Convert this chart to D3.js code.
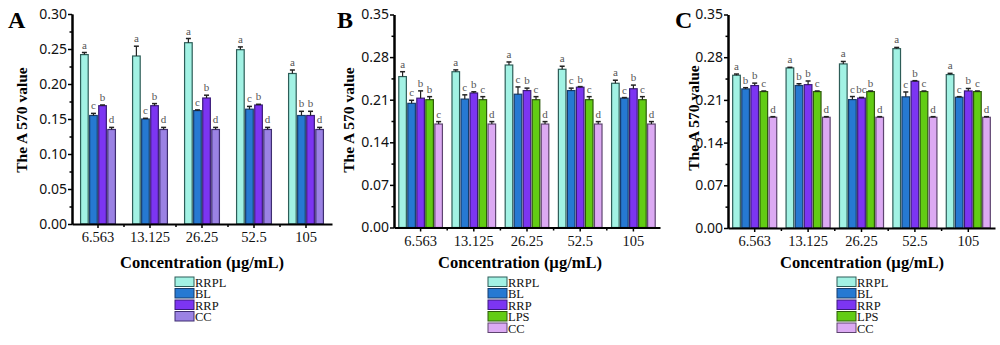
<!DOCTYPE html>
<html>
<head>
<meta charset="utf-8">
<script src="https://cdn.jsdelivr.net/npm/d3@7"></script>
<style>
  body { margin: 0; background: #fff; }
  svg { display: block; }
</style>
</head>
<body>
<div id="chart"></div>
<script>
// categories / series
const concentrations = ["6.563", "13.125", "26.25", "52.5", "105"];
const seriesA = ["RRPL", "BL", "RRP", "CC"];
const seriesBC = ["RRPL", "BL", "RRP", "LPS", "CC"];

// panel A values (A 570)
const aRRPL = [0.242, 0.240, 0.259, 0.249, 0.215];
const aBL   = [0.155, 0.150, 0.162, 0.164, 0.155];
const aRRP  = [0.169, 0.169, 0.180, 0.170, 0.155];
const aCC   = [0.135, 0.135, 0.135, 0.135, 0.135];
const aRRPLErr = [0.003, 0.014, 0.006, 0.004, 0.005];
const aBLErr   = [0.003, 0.001, 0.001, 0.004, 0.006];
const aRRPErr  = [0.001, 0.003, 0.004, 0.001, 0.006];
const aCCErr   = [0.003, 0.003, 0.003, 0.003, 0.003];
const aRRPLSig = ["a", "a", "a", "a", "a"];
const aBLSig   = ["c", "c", "c", "c", "b"];
const aRRPSig  = ["b", "b", "b", "b", "b"];
const aCCSig   = ["d", "d", "d", "d", "d"];

// panel B values
const bRRPL = [0.248, 0.256, 0.267, 0.260, 0.237];
const bBL   = [0.204, 0.211, 0.219, 0.225, 0.2125];
const bRRP  = [0.2125, 0.221, 0.225, 0.2305, 0.228];
const bLPS  = [0.210, 0.210, 0.210, 0.210, 0.210];
const bCC   = [0.170, 0.170, 0.170, 0.170, 0.170];
const bRRPLErr = [0.008, 0.003, 0.005, 0.005, 0.005];
const bBLErr   = [0.005, 0.007, 0.012, 0.004, 0.001];
const bRRPErr  = [0.012, 0.002, 0.004, 0.001, 0.006];
const bLPSErr  = [0.005, 0.005, 0.005, 0.005, 0.005];
const bCCErr   = [0.004, 0.004, 0.004, 0.004, 0.004];
const bRRPLSig = ["a", "a", "a", "a", "a"];
const bBLSig   = ["c", "c", "c", "c", "c"];
const bRRPSig  = ["b", "b", "b", "b", "b"];
const bLPSSig  = ["b", "c", "c", "c", "c"];
const bCCSig   = ["c", "d", "d", "d", "d"];

// panel C values
const cRRPL = [0.2504, 0.2624, 0.269, 0.294, 0.2515];
const cBL   = [0.228, 0.2335, 0.2105, 0.215, 0.2143];
const cRRP  = [0.2335, 0.235, 0.213, 0.2405, 0.2247];
const cLPS  = [0.2236, 0.2236, 0.2236, 0.2236, 0.2236];
const cCC   = [0.1815, 0.1815, 0.1815, 0.1815, 0.1815];
const cRRPLErr = [0.002, 0.001, 0.004, 0.002, 0.002];
const cBLErr   = [0.002, 0.003, 0.005, 0.008, 0.001];
const cRRPErr  = [0.004, 0.006, 0.001, 0.001, 0.004];
const cLPSErr  = [0.001, 0.001, 0.001, 0.001, 0.001];
const cCCErr   = [0.001, 0.001, 0.001, 0.001, 0.001];
const cRRPLSig = ["a", "a", "a", "a", "a"];
const cBLSig   = ["b", "b", "c", "c", "c"];
const cRRPSig  = ["b", "b", "bc", "b", "b"];
const cLPSSig  = ["c", "c", "b", "c", "c"];
const cCCSig   = ["d", "d", "d", "d", "d"];

// y tick labels
const ticksA = [0, 0.05, 0.10, 0.15, 0.20, 0.25, 0.30];
const ticksBC = [0, 0.07, 0.14, 0.21, 0.28, 0.35];

// colours
const fills = { RRPL: "#a2f2e4", BL: "#2679d2", RRP: "#7c35f2", LPS: "#62cc14" };
const strokes = { RRPL: "#2d5d58", BL: "#163d6c", RRP: "#3a1a7a", LPS: "#2e5a0b" };
const ccFillA = "#9b82e4", ccStrokeA = "#3e2e70";
const ccFillBC = "#dcaaf3", ccStrokeBC = "#5e4470";

const svg = d3.select("#chart").append("svg")
  .attr("width", 1000)
  .attr("height", 345);

function drawPanel(p) {
  const g = svg.append("g");

  const x0 = d3.scaleBand().domain(concentrations)
    .range(p.xRange).paddingInner(p.groupPad).paddingOuter(p.groupPad / 2);
  const x1 = d3.scaleBand().domain(p.series)
    .range([0, x0.bandwidth()]).paddingInner(0.16);
  const y = d3.scaleLinear().domain([0, p.yMax]).range(p.yRange);

  // rows of data
  const rows = [];
  p.series.forEach((s, si) => {
    concentrations.forEach((c, ci) => {
      rows.push({ s: s, c: c, v: p.values[si][ci], e: p.errors[si][ci], sig: p.sigs[si][ci] });
    });
  });

  // bars
  g.selectAll(".bar").data(rows).enter().append("rect")
    .attr("x", d => x0(d.c) + x1(d.s))
    .attr("y", d => y(d.v))
    .attr("width", x1.bandwidth())
    .attr("height", d => y(0) - y(d.v))
    .attr("fill", d => d.s == "CC" ? p.ccFill : fills[d.s])
    .attr("stroke", d => d.s == "CC" ? p.ccStroke : strokes[d.s])
    .attr("stroke-width", 1.2);

  // error bars (upper only)
  const cx = d => x0(d.c) + x1(d.s) + x1.bandwidth() / 2;
  g.selectAll(".err").data(rows).enter().append("line")
    .attr("x1", cx).attr("x2", cx)
    .attr("y1", d => y(d.v)).attr("y2", d => y(d.v + d.e))
    .attr("stroke", "#222").attr("stroke-width", 1.2);
  g.selectAll(".cap").data(rows).enter().append("line")
    .attr("x1", d => cx(d) - 2.5).attr("x2", d => cx(d) + 2.5)
    .attr("y1", d => y(d.v + d.e)).attr("y2", d => y(d.v + d.e))
    .attr("stroke", "#222").attr("stroke-width", 1.5);

  // significance letters
  g.selectAll(".sig").data(rows).enter().append("text")
    .attr("x", cx)
    .attr("y", d => y(d.v + d.e) - 4)
    .attr("text-anchor", "middle")
    .style("font-family", "'Liberation Serif', serif")
    .style("font-size", "11px")
    .style("fill", "#555")
    .text(d => d.sig);

  // x axis: major ticks at groups, minor ticks between groups
  const xAxis = g.append("g")
    .attr("transform", "translate(0," + y(0) + ")")
    .call(d3.axisBottom(x0).tickSize(4).tickPadding(4).tickSizeOuter(0));
  xAxis.selectAll("text")
    .style("font-family", "'Liberation Serif', serif")
    .style("font-size", "14.5px")
    .style("fill", "#111");
  g.selectAll(".xminor").data(concentrations.slice(1)).enter().append("line")
    .attr("x1", d => x0(d) - x0.step() * x0.paddingInner() / 2)
    .attr("x2", d => x0(d) - x0.step() * x0.paddingInner() / 2)
    .attr("y1", y(0)).attr("y2", y(0) + 3)
    .attr("stroke", "#000").attr("stroke-width", 1.5);

  // y axis with minor ticks
  const minor = d3.pairs(p.ticks).map(t => (t[0] + t[1]) / 2);
  g.append("g")
    .attr("transform", "translate(" + p.xRange[0] + ",0)")
    .call(d3.axisLeft(y).tickValues(minor).tickSize(2.5).tickFormat("").tickSizeOuter(0));
  const yAxis = g.append("g")
    .attr("transform", "translate(" + p.xRange[0] + ",0)")
    .call(d3.axisLeft(y).tickValues(p.ticks).tickSize(4).tickPadding(1)
      .tickFormat(d3.format(".2f")).tickSizeOuter(0));
  yAxis.selectAll("text")
    .style("font-family", "'Noto Sans', sans-serif")
    .style("font-size", "14px")
    .style("fill", "#111");

  g.selectAll(".domain").attr("stroke-width", 2);
  g.selectAll(".tick line").attr("stroke-width", 1.5);

  // panel letter
  g.append("text")
    .attr("x", p.letterX).attr("y", 28)
    .style("font-family", "'Liberation Serif', serif")
    .style("font-weight", "bold")
    .style("font-size", "24px")
    .text(p.letter);

  // y label
  g.append("text")
    .attr("transform", "translate(" + p.yLabelX + "," + p.yLabelY + ") rotate(-90)")
    .attr("text-anchor", "middle")
    .style("font-family", "'Liberation Serif', serif")
    .style("font-weight", "bold")
    .style("font-size", "15.5px")
    .text("The A 570 value");

  // x label
  g.append("text")
    .attr("x", p.xLabelX).attr("y", 268)
    .attr("text-anchor", "middle")
    .style("font-family", "'Liberation Serif', serif")
    .style("font-weight", "bold")
    .style("font-size", "16.5px")
    .text("Concentration (\u00b5g/mL)");

  // legend
  const leg = g.append("g").attr("transform", "translate(" + p.legendX + ",277)");
  const item = leg.selectAll(".item").data(p.series).enter().append("g")
    .attr("transform", (d, i) => "translate(0," + i * 11.5 + ")");
  item.append("rect")
    .attr("width", 19).attr("height", 9.5)
    .attr("fill", d => d == "CC" ? p.ccFill : fills[d])
    .attr("stroke", d => d == "CC" ? p.ccStroke : strokes[d])
    .attr("stroke-width", 1);
  item.append("text")
    .attr("x", 20).attr("y", 9.5)
    .style("font-family", "'Liberation Serif', serif")
    .style("font-size", "12.5px")
    .style("fill", "#111")
    .text(d => d);
}

drawPanel({
  letter: "A", letterX: 8,
  series: seriesA,
  values: [aRRPL, aBL, aRRP, aCC],
  errors: [aRRPLErr, aBLErr, aRRPErr, aCCErr],
  sigs: [aRRPLSig, aBLSig, aRRPSig, aCCSig],
  ticks: ticksA, yMax: 0.30,
  xRange: [72, 332], yRange: [224, 14], groupPad: 0.33,
  ccFill: ccFillA, ccStroke: ccStrokeA,
  yLabelX: 27, yLabelY: 120, xLabelX: 202, legendX: 175
});

drawPanel({
  letter: "B", letterX: 337,
  series: seriesBC,
  values: [bRRPL, bBL, bRRP, bLPS, bCC],
  errors: [bRRPLErr, bBLErr, bRRPErr, bLPSErr, bCCErr],
  sigs: [bRRPLSig, bBLSig, bRRPSig, bLPSSig, bCCSig],
  ticks: ticksBC, yMax: 0.35,
  xRange: [394, 660], yRange: [227.5, 14.5], groupPad: 0.18,
  ccFill: ccFillBC, ccStroke: ccStrokeBC,
  yLabelX: 354, yLabelY: 120, xLabelX: 520, legendX: 488
});

drawPanel({
  letter: "C", letterX: 675,
  series: seriesBC,
  values: [cRRPL, cBL, cRRP, cLPS, cCC],
  errors: [cRRPLErr, cBLErr, cRRPErr, cLPSErr, cCCErr],
  sigs: [cRRPLSig, cBLSig, cRRPSig, cLPSSig, cCCSig],
  ticks: ticksBC, yMax: 0.35,
  xRange: [728, 995], yRange: [228, 14.5], groupPad: 0.175,
  ccFill: ccFillBC, ccStroke: ccStrokeBC,
  yLabelX: 699, yLabelY: 118, xLabelX: 862, legendX: 837
});
</script>
</body>
</html>
